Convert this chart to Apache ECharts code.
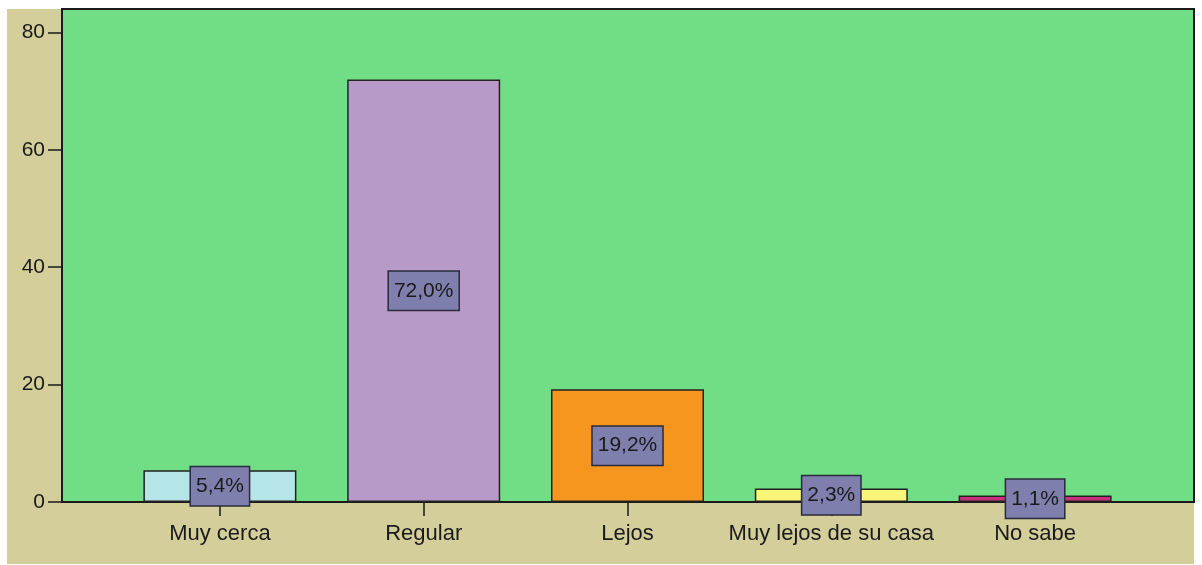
<!DOCTYPE html>
<html>
<head>
<meta charset="utf-8">
<script src="https://cdn.jsdelivr.net/npm/echarts@6/dist/echarts.min.js"></script>
<style>
  html, body { margin: 0; padding: 0; background: #ffffff; }
  #chart { position: absolute; left: 0; top: 0; width: 1202px; height: 565px; }
</style>
</head>
<body>
<div id="chart"></div>
<script>
// Distance categories and their percentages
const categories = ['Muy cerca', 'Regular', 'Lejos', 'Muy lejos de su casa', 'No sabe'];
const percentages = [5.4, 72.0, 19.2, 2.3, 1.1];
const barColors = ['#b5e5e6', '#b79ac8', '#f7961e', '#fbf67a', '#c8307c'];
const yTicks = [0, 20, 40, 60, 80];

const FONT = 'Liberation Sans, Arial, sans-serif';
const Y_MAX = 84;

const chart = echarts.init(document.getElementById('chart'), null, { renderer: 'canvas' });

const fmt = v => v.toFixed(1).replace('.', ',') + '%';

chart.setOption({
  backgroundColor: '#ffffff',
  animation: false,
  graphic: [{
    type: 'rect',
    z: -100,
    silent: true,
    shape: { x: 7, y: 9, width: 1187, height: 555 },
    style: { fill: '#d4ce9b' }
  }],
  grid: [
    { // framed plotting area with the value axis
      left: 62, right: 8, top: 9, bottom: 63,
      show: true, backgroundColor: '#71dd85',
      borderColor: '#1a1a1a', borderWidth: 2
    },
    { // inner band that holds the category slots
      left: 118, right: 65, top: 9, bottom: 63
    }
  ],
  xAxis: [
    { gridIndex: 0, type: 'value', show: false, min: 0, max: 1 },
    {
      gridIndex: 1, type: 'category', data: categories,
      axisLine: { show: false },
      axisTick: { show: true, alignWithLabel: true, length: 14, lineStyle: { color: '#1a1a1a', width: 1.5 } },
      axisLabel: { color: '#1a1a1a', fontFamily: FONT, fontSize: 22, margin: 21, interval: 0 }
    }
  ],
  yAxis: [
    {
      gridIndex: 0, type: 'value', min: 0, max: Y_MAX, interval: 20,
      axisLine: { show: true, lineStyle: { color: '#1a1a1a', width: 2 } },
      axisTick: { show: true, length: 14, lineStyle: { color: '#1a1a1a', width: 1.5 } },
      axisLabel: {
        color: '#1a1a1a', fontFamily: FONT, fontSize: 21, margin: 17,
        showMaxLabel: false,
        formatter: v => (yTicks.indexOf(v) >= 0 ? String(v) : '')
      },
      splitLine: { show: false }
    },
    { gridIndex: 1, type: 'value', min: 0, max: Y_MAX, show: false }
  ],
  series: [{
    type: 'bar',
    xAxisIndex: 1, yAxisIndex: 1,
    barWidth: 153,
    data: percentages.map((v, i) => ({
      value: v,
      itemStyle: { color: barColors[i] }
    })),
    itemStyle: { borderColor: '#222222', borderWidth: 1.5 },
    label: {
      show: true,
      position: 'inside',
      formatter: p => fmt(p.value),
      color: '#1a1a1a',
      fontFamily: FONT,
      fontSize: 21,
      backgroundColor: '#7f7fae',
      borderColor: '#2a2a3a',
      borderWidth: 1.5,
      padding: [9, 5, 8, 5]
    }
  }]
});
</script>
</body>
</html>
